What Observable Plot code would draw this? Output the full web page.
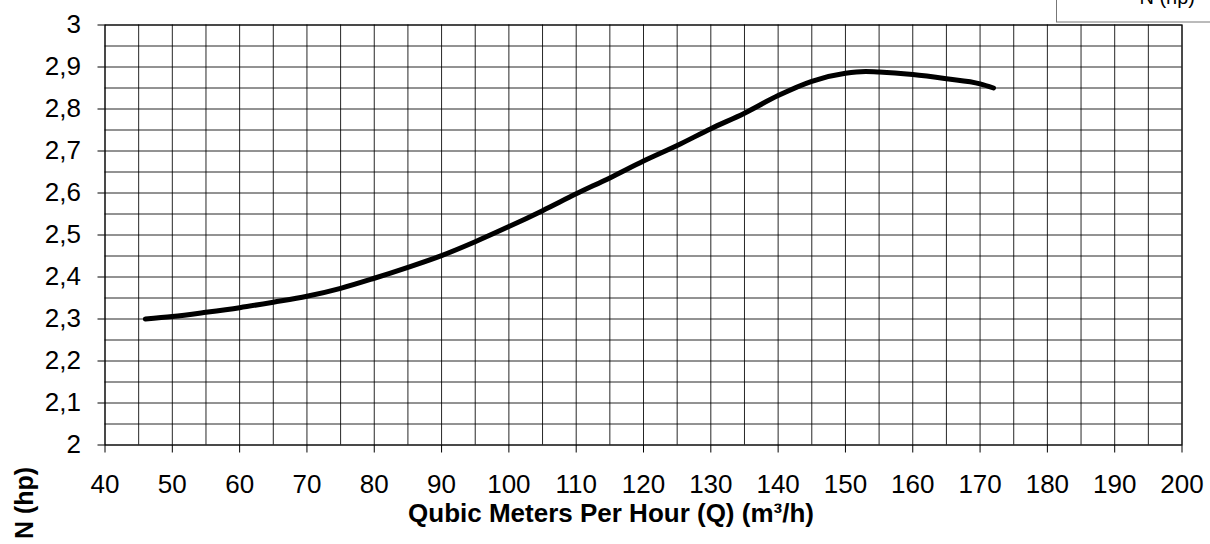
<!DOCTYPE html>
<html>
<head>
<meta charset="utf-8">
<script src="https://cdn.jsdelivr.net/npm/d3@7"></script>
<script src="https://cdn.jsdelivr.net/npm/@observablehq/plot@0.6"></script>
<style>
  html, body { margin: 0; padding: 0; background: #fff; }
  #chart { width: 1210px; height: 544px; overflow: hidden; }
</style>
</head>
<body>
<div id="chart"></div>
<script>
// Flow (m³/h)
const flowQ = [46, 50, 55, 60, 65, 70, 75, 80, 85, 90, 95, 100, 105, 110, 115, 120, 125, 130, 135, 140, 145, 150, 153, 155, 160, 165, 170, 172];
// Power N (hp)
const powerN = [2.300, 2.306, 2.316, 2.327, 2.340, 2.354, 2.373, 2.397, 2.423, 2.451, 2.484, 2.520, 2.558, 2.598, 2.636, 2.676, 2.713, 2.753, 2.790, 2.832, 2.866, 2.885, 2.889, 2.888, 2.882, 2.872, 2.860, 2.850];

const xTicks = [40, 50, 60, 70, 80, 90, 100, 110, 120, 130, 140, 150, 160, 170, 180, 190, 200];
const xGrid = [40, 45, 50, 55, 60, 65, 70, 75, 80, 85, 90, 95, 100, 105, 110, 115, 120, 125, 130, 135, 140, 145, 150, 155, 160, 165, 170, 175, 180, 185, 190, 195, 200];
const yTicks = [2, 2.1, 2.2, 2.3, 2.4, 2.5, 2.6, 2.7, 2.8, 2.9, 3];
const yGrid = [2, 2.05, 2.1, 2.15, 2.2, 2.25, 2.3, 2.35, 2.4, 2.45, 2.5, 2.55, 2.6, 2.65, 2.7, 2.75, 2.8, 2.85, 2.9, 2.95, 3];

const xTitle = "Qubic Meters Per Hour (Q) (m³/h)";
const yTitle = "N (hp)";
const seriesName = "N (hp)";

const data = flowQ.map((q, i) => ({q, n: powerN[i]}));
const fmt = d => d3.format(".1~f")(d).replace(".", ",");

const font = "Arial, 'Liberation Sans', Helvetica, sans-serif";

const chart = Plot.plot({
  width: 1210,
  height: 544,
  marginLeft: 104.5,
  marginRight: 28.5,
  marginTop: 24.5,
  marginBottom: 99.5,
  style: {fontFamily: font, fontSize: "26px", color: "#000", background: "#fff", overflow: "visible"},
  x: {domain: [40, 200]},
  y: {domain: [2, 3]},
  marks: [
    Plot.ruleX(xGrid, {stroke: "#000", strokeWidth: 1, strokeOpacity: 0.85}),
    Plot.ruleY(yGrid, {stroke: "#000", strokeWidth: 1, strokeOpacity: 0.85}),
    Plot.axisX({ticks: xTicks, tickSize: 8, tickPadding: 22, tickFormat: d => String(d), label: null, fontSize: 26}),
    Plot.axisY({ticks: yTicks, tickSize: 7, tickPadding: 17, tickFormat: fmt, label: null, fontSize: 26}),
    Plot.frame({stroke: "#000"}),
    Plot.line(data, {x: "q", y: "n", stroke: "#000", strokeWidth: 5, curve: "monotone-x", strokeLinecap: "round", strokeLinejoin: "round"})
  ]
});

const svg = d3.select(chart);
// x title
svg.append("text")
  .attr("x", 611).attr("y", 522)
  .attr("text-anchor", "middle")
  .attr("font-family", font).attr("font-size", 26).attr("font-weight", "bold")
  .attr("fill", "#000")
  .text(xTitle);
// y title (rotated)
svg.append("text")
  .attr("transform", "translate(33,503) rotate(-90)")
  .attr("text-anchor", "middle")
  .attr("font-family", font).attr("font-size", 25).attr("font-weight", "bold")
  .attr("fill", "#000")
  .text(yTitle);
// legend box (partially off-canvas at top)
svg.append("rect")
  .attr("x", 1056.5).attr("y", -30).attr("width", 200).attr("height", 52)
  .attr("fill", "#fff").attr("stroke", "#777").attr("stroke-width", 1);
svg.append("text")
  .attr("x", 1195).attr("y", 4)
  .attr("text-anchor", "end")
  .attr("font-family", font).attr("font-size", 20)
  .attr("fill", "#000")
  .text(seriesName);

document.getElementById("chart").appendChild(chart);
</script>
</body>
</html>
